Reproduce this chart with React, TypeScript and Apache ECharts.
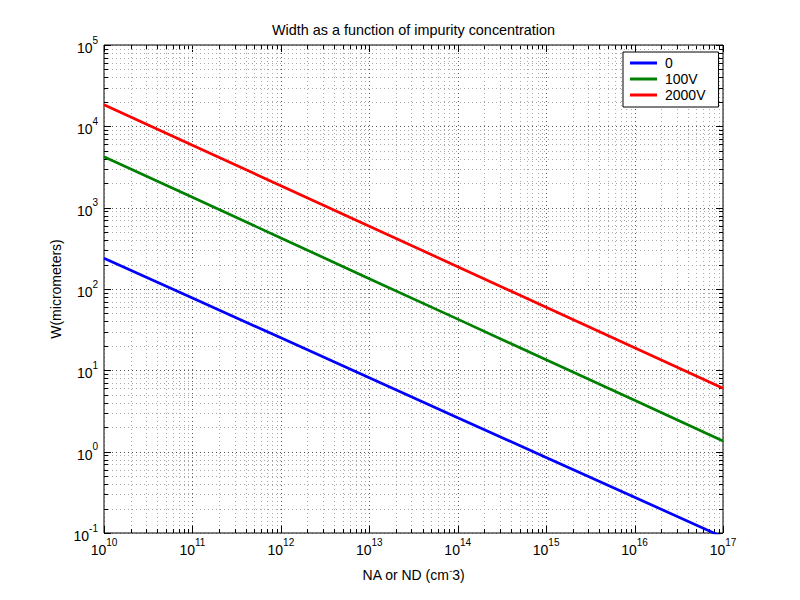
import React, { useEffect, useRef } from 'react';
import * as echarts from 'echarts';

// ---- data ----
const concentration = [1e10, 1e11, 1e12, 1e13, 1e14, 1e15, 1e16, 1e17];
const width0V = [239, 77.4, 25.1, 8.11, 2.62, 0.85, 0.275, 0.089];
const width100V = [4220, 1340, 424, 134, 42.6, 13.5, 4.28, 1.35];
const width2000V = [18450, 5860, 1860, 592, 188, 59.7, 19.0, 6.03];
const seriesNames = ['0', '100V', '2000V'];
const seriesColors = ['#0000ff', '#008000', '#ff0000'];
const xExponents = [10, 11, 12, 13, 14, 15, 16, 17];
const yExponents = [-1, 0, 1, 2, 3, 4, 5];
const minorMultipliers = [2, 3, 4, 5, 6, 7, 8, 9];

const FONT = '"Liberation Sans", Arial, Helvetica, sans-serif';

function gridValues(exps: number[]) {
  const out: { v: number; major: number }[] = [];
  exps.forEach((e, i) => {
    out.push({ v: Math.pow(10, e), major: 1 });
    if (i < exps.length - 1) {
      minorMultipliers.forEach((m) => out.push({ v: m * Math.pow(10, e), major: 0 }));
    }
  });
  return out;
}

const xGrid = gridValues(xExponents);
const yGrid = gridValues(yExponents);

const supFormatter = (v: number) => `{b|10}{s|${Math.round(Math.log10(v))}}`;
const supRich = {
  b: { fontSize: 14, fontFamily: FONT, color: '#000', lineHeight: 20, verticalAlign: 'bottom' },
  s: { fontSize: 10, fontFamily: FONT, color: '#000', lineHeight: 10, verticalAlign: 'top' },
};

function gridRenderer(isX: boolean) {
  return (params: any, api: any) => {
    const cs = params.coordSys;
    const p = api.coord([api.value(0), api.value(1)]);
    const major = api.value(2) === 1;
    const len = major ? 7 : 4;
    const gridStyle = { stroke: major ? '#555' : '#aaa', lineWidth: 1, lineDash: [1, 3] };
    const tickStyle = { stroke: '#000', lineWidth: 1 };
    const children: any[] = [];
    if (isX) {
      const x = Math.round(p[0]) + 0.5;
      const top = cs.y;
      const bot = cs.y + cs.height;
      children.push({ type: 'line', shape: { x1: x, y1: top, x2: x, y2: bot }, style: gridStyle });
      children.push({ type: 'line', shape: { x1: x, y1: bot, x2: x, y2: bot - len }, style: tickStyle });
      children.push({ type: 'line', shape: { x1: x, y1: top, x2: x, y2: top + len }, style: tickStyle });
    } else {
      const y = Math.round(p[1]) + 0.5;
      const left = cs.x;
      const right = cs.x + cs.width;
      children.push({ type: 'line', shape: { x1: left, y1: y, x2: right, y2: y }, style: gridStyle });
      children.push({ type: 'line', shape: { x1: left, y1: y, x2: left + len, y2: y }, style: tickStyle });
      children.push({ type: 'line', shape: { x1: right, y1: y, x2: right - len, y2: y }, style: tickStyle });
    }
    return { type: 'group', children };
  };
}

export default function App() {
  const ref = useRef<HTMLDivElement>(null);
  useEffect(() => {
    const chart = echarts.init(ref.current!, null, { renderer: 'svg' });
    const lineData = [width0V, width100V, width2000V].map((arr) =>
      arr.map((w, i) => [concentration[i], w])
    );
    chart.setOption({
      animation: false,
      backgroundColor: '#ffffff',
      textStyle: { fontFamily: FONT },
      grid: {
        left: 104,
        top: 45,
        width: 619,
        height: 488,
        show: true,
        borderColor: '#000',
        borderWidth: 1,
        backgroundColor: 'transparent',
        containLabel: false,
      },
      graphic: [
        {
          type: 'text',
          x: 413.5,
          y: 30,
          style: {
            text: 'Width as a function of impurity concentration',
            font: `14.4px ${FONT}`,
            fill: '#000',
            textAlign: 'center',
            textVerticalAlign: 'middle',
            align: 'center',
            verticalAlign: 'middle',
          },
        },
      ],
      legend: {
        data: seriesNames,
        orient: 'vertical',
        left: 623,
        top: 52,
        icon: 'rect',
        itemWidth: 27,
        itemHeight: 3,
        itemGap: 0,
        padding: [3, 13, 4, 7],
        borderColor: '#000',
        borderWidth: 1,
        backgroundColor: '#fff',
        borderRadius: 0,
        textStyle: { fontSize: 14, fontFamily: FONT, color: '#000', lineHeight: 16, padding: [0, 0, 0, 3] },
      },
      xAxis: {
        type: 'log',
        logBase: 10,
        min: 1e10,
        max: 1e17,
        splitNumber: 7,
        name: 'NA or ND (cm{s|-}3)',
        nameLocation: 'middle',
        nameGap: 33,
        nameTextStyle: {
          fontSize: 14,
          fontFamily: FONT,
          color: '#000',
          lineHeight: 18,
          rich: { s: { fontSize: 9, fontFamily: FONT, color: '#000', lineHeight: 9, verticalAlign: 'top' } },
        },
        axisLine: { show: false },
        axisTick: { show: false },
        splitLine: { show: false },
        axisLabel: { formatter: supFormatter, rich: supRich, margin: 4, showMinLabel: true, showMaxLabel: true },
      },
      yAxis: {
        type: 'log',
        logBase: 10,
        min: 0.1,
        max: 1e5,
        splitNumber: 6,
        name: 'W(micrometers)',
        nameLocation: 'middle',
        nameGap: 34,
        nameRotate: 90,
        nameTextStyle: { fontSize: 14, fontFamily: FONT, color: '#000' },
        axisLine: { show: false },
        axisTick: { show: false },
        splitLine: { show: false },
        axisLabel: { formatter: supFormatter, rich: supRich, margin: 6, showMinLabel: true, showMaxLabel: true },
      },
      series: [
        {
          type: 'custom',
          name: 'xgrid',
          silent: true,
          z: 1,
          renderItem: gridRenderer(true),
          data: xGrid.map((g) => [g.v, 1, g.major]),
          encode: { x: 0, y: 1 },
        },
        {
          type: 'custom',
          name: 'ygrid',
          silent: true,
          z: 1,
          renderItem: gridRenderer(false),
          data: yGrid.map((g) => [1e12, g.v, g.major]),
          encode: { x: 0, y: 1 },
        },
        ...seriesNames.map((name, i) => ({
          type: 'line',
          name,
          data: lineData[i],
          showSymbol: false,
          symbol: 'none',
          clip: true,
          z: 3,
          color: seriesColors[i],
          lineStyle: { color: seriesColors[i], width: 2.7 },
        })),
      ],
    });
    return () => chart.dispose();
  }, []);
  return (
    <div
      ref={ref}
      style={{ position: 'absolute', left: 0, top: 0, width: 800, height: 600, background: '#fff' }}
    />
  );
}
